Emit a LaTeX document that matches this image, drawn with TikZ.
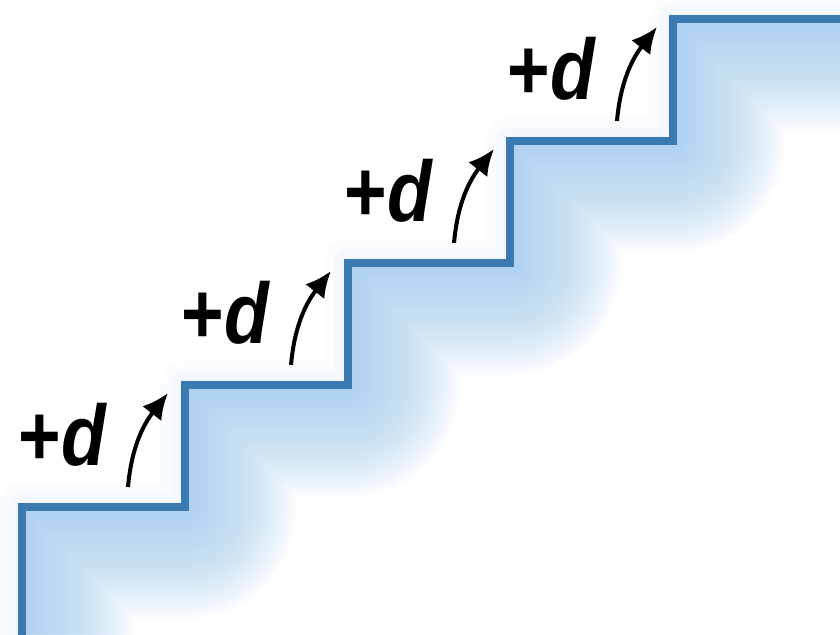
\documentclass[tikz,border=0pt]{standalone}
\usepackage{fontspec}
\usetikzlibrary{arrows.meta}
\newfontfamily\stepfont[FakeStretch=0.85]{Liberation Sans}
\definecolor{stairblue}{HTML}{3B79B1}
\definecolor{softblue}{HTML}{A6D0F2}
\tikzset{
  stair/.style={line width=4pt,stairblue,line join=miter},
  glow/.style={softblue,line join=round,opacity=0.055},
  steplabel/.style={anchor=base west,inner sep=0pt,font=\stepfont\bfseries\fontsize{43pt}{43pt}\selectfont},
  climb/.style={-{Latex[length=13pt,width=12pt]},line width=2pt,black}
}
\begin{document}
\begin{tikzpicture}[x=0.5pt,y=-0.5pt]
  \useasboundingbox[fill=white] (0,0) rectangle (840,634);

  % corners of the stairs
  \coordinate (c0) at (22,640);
  \coordinate (c1) at (22,507);
  \coordinate (c2) at (185,507);
  \coordinate (c3) at (185,385);
  \coordinate (c4) at (348,385);
  \coordinate (c5) at (348,263);
  \coordinate (c6) at (510,263);
  \coordinate (c7) at (510,141);
  \coordinate (c8) at (673,141);
  \coordinate (c9) at (673,19);
  \coordinate (c10) at (860,19);

  % soft glow, mostly under the stairs
  \foreach \w in {6,14,24}
    \draw[glow,opacity=0.05,line width=\w pt] (c0) -- (c1) -- (c2) -- (c3) -- (c4) -- (c5) -- (c6) -- (c7) -- (c8) -- (c9) -- (c10);
  \begin{scope}
    \clip (c0) -- (c1) -- (c2) -- (c3) -- (c4) -- (c5) -- (c6) -- (c7) -- (c8) -- (c9) -- (c10) -- (860,660) -- cycle;
    \foreach \w in {4,8,...,112}
      \draw[glow,line width=\w pt] (c0) -- (c1) -- (c2) -- (c3) -- (c4) -- (c5) -- (c6) -- (c7) -- (c8) -- (c9) -- (c10);
  \end{scope}

  \draw[stair] (c0) -- (c1) -- (c2) -- (c3) -- (c4) -- (c5) -- (c6) -- (c7) -- (c8) -- (c9) -- (c10);

  % labels
  \node[steplabel] (d1) at (18,465) {+\itshape d};
  \node[steplabel] (d2) at (181,343) {+\itshape d};
  \node[steplabel] (d3) at (344,221) {+\itshape d};
  \node[steplabel] (d4) at (507,99) {+\itshape d};

  % arrows
  \coordinate (t1) at (128,487); \coordinate (h1) at (168,393);
  \coordinate (t2) at (291,365); \coordinate (h2) at (331,271);
  \coordinate (t3) at (454,243); \coordinate (h3) at (494,149);
  \coordinate (t4) at (617,121); \coordinate (h4) at (657,27);
  \draw[climb] (t1) to[out=85,in=232] (h1);
  \draw[climb] (t2) to[out=85,in=232] (h2);
  \draw[climb] (t3) to[out=85,in=232] (h3);
  \draw[climb] (t4) to[out=85,in=232] (h4);
\end{tikzpicture}
\end{document}
